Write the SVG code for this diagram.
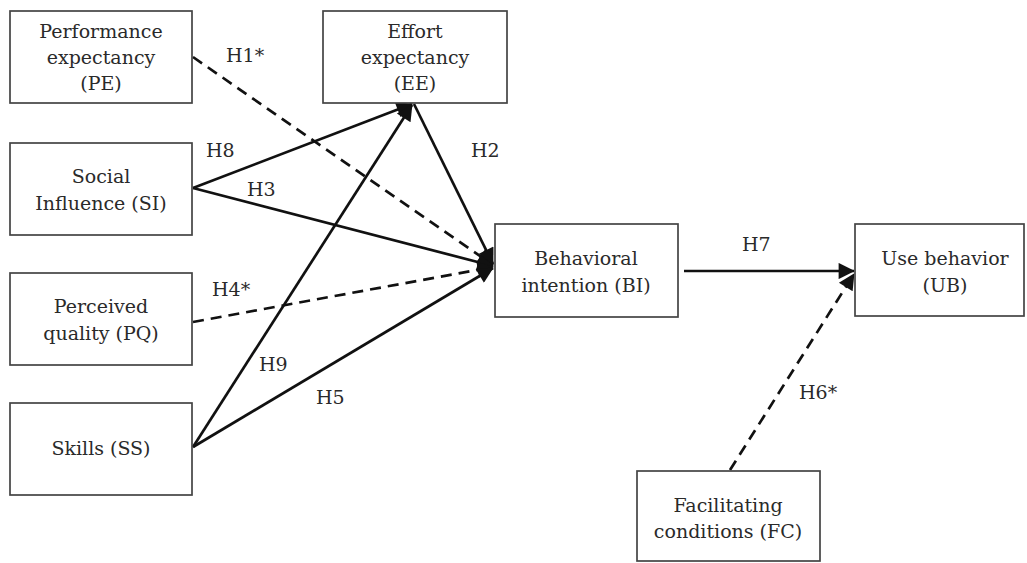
<svg xmlns="http://www.w3.org/2000/svg" width="1027" height="563" viewBox="0 0 1027 563">
  <style>
    .box { fill: #ffffff; stroke: #444444; stroke-width: 1.7; }
    .lbl { font-family: "DejaVu Serif", "Liberation Serif", serif; font-size: 19px; fill: #2a2a2a; text-anchor: middle; }
    .hyp { font-family: "DejaVu Serif", "Liberation Serif", serif; font-size: 19px; fill: #2a2a2a; }
    .edge { fill: none; stroke: #111111; stroke-width: 2.7; }
    .dash { stroke-dasharray: 11 7; }
  </style>
  <defs>
    <marker id="head" viewBox="0 0 10 10" refX="9.5" refY="5" markerWidth="7" markerHeight="6" markerUnits="strokeWidth" orient="auto">
      <path d="M0,0 L10,5 L0,10 Z" fill="#111111"/>
    </marker>
  </defs>

  <rect width="1027" height="563" fill="#ffffff"/>

  <!-- connectors -->
  <g id="connectors">
    <line class="edge dash" x1="193" y1="57" x2="493" y2="265" marker-end="url(#head)"/>
    <line class="edge" x1="193" y1="188" x2="412" y2="104" marker-end="url(#head)"/>
    <line class="edge" x1="193" y1="188" x2="493" y2="266" marker-end="url(#head)"/>
    <line class="edge" x1="414" y1="104" x2="493" y2="264" marker-end="url(#head)"/>
    <line class="edge dash" x1="193" y1="322" x2="493" y2="267" marker-end="url(#head)"/>
    <line class="edge" x1="193" y1="447" x2="412" y2="105" marker-end="url(#head)"/>
    <line class="edge" x1="193" y1="447" x2="493" y2="268" marker-end="url(#head)"/>
    <line class="edge" x1="684" y1="271" x2="854" y2="271" marker-end="url(#head)"/>
    <line class="edge dash" x1="730" y1="470" x2="854" y2="274" marker-end="url(#head)"/>

    <text class="hyp" x="226" y="62">H1*</text>
    <text class="hyp" x="206" y="157">H8</text>
    <text class="hyp" x="471" y="157">H2</text>
    <text class="hyp" x="247" y="196">H3</text>
    <text class="hyp" x="212" y="296">H4*</text>
    <text class="hyp" x="259" y="371">H9</text>
    <text class="hyp" x="316" y="404">H5</text>
    <text class="hyp" x="742" y="251">H7</text>
    <text class="hyp" x="799" y="399">H6*</text>
  </g>

  <!-- Performance expectancy -->
  <g id="node-pe">
    <rect class="box" x="10" y="11" width="182" height="92"/>
    <text class="lbl" x="101" y="38">Performance</text>
    <text class="lbl" x="101" y="64">expectancy</text>
    <text class="lbl" x="101" y="90">(PE)</text>
  </g>

  <!-- Effort expectancy -->
  <g id="node-ee">
    <rect class="box" x="323" y="11" width="184" height="92"/>
    <text class="lbl" x="415" y="38">Effort</text>
    <text class="lbl" x="415" y="64">expectancy</text>
    <text class="lbl" x="415" y="90">(EE)</text>
  </g>

  <!-- Social influence -->
  <g id="node-si">
    <rect class="box" x="10" y="143" width="182" height="92"/>
    <text class="lbl" x="101" y="183">Social</text>
    <text class="lbl" x="101" y="210">Influence (SI)</text>
  </g>

  <!-- Perceived quality -->
  <g id="node-pq">
    <rect class="box" x="10" y="273" width="182" height="92"/>
    <text class="lbl" x="101" y="313">Perceived</text>
    <text class="lbl" x="101" y="340">quality (PQ)</text>
  </g>

  <!-- Skills -->
  <g id="node-ss">
    <rect class="box" x="10" y="403" width="182" height="92"/>
    <text class="lbl" x="101" y="455">Skills (SS)</text>
  </g>

  <!-- Behavioral intention -->
  <g id="node-bi">
    <rect class="box" x="495" y="224" width="183" height="93"/>
    <text class="lbl" x="586" y="265">Behavioral</text>
    <text class="lbl" x="586" y="292">intention (BI)</text>
  </g>

  <!-- Use behavior -->
  <g id="node-ub">
    <rect class="box" x="855" y="224" width="169" height="92"/>
    <text class="lbl" x="945" y="265">Use behavior</text>
    <text class="lbl" x="945" y="292">(UB)</text>
  </g>

  <!-- Facilitating conditions -->
  <g id="node-fc">
    <rect class="box" x="637" y="471" width="183" height="90"/>
    <text class="lbl" x="728" y="512">Facilitating</text>
    <text class="lbl" x="728" y="538">conditions (FC)</text>
  </g>
</svg>
